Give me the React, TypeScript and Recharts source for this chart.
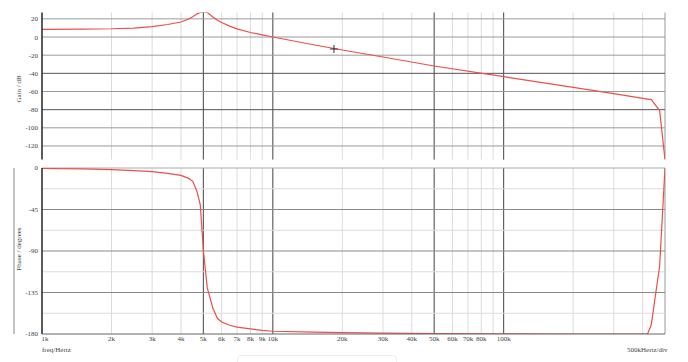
import React from 'react';
import { LineChart, Line, XAxis, YAxis, ReferenceLine, ReferenceDot } from 'recharts';

// ---- data ----
const freqHz = [1000, 1500, 2000, 2500, 3000, 3500, 4000, 4300, 4500, 4700, 4850, 5000, 5200, 5500, 5750, 6000, 6500, 7000, 8000, 9000, 10000, 15000, 20000, 30000, 50000, 100000, 200000, 300000, 420000, 436000, 474000, 500000];
const gainDb = [8.4, 8.8, 9.1, 9.9, 11.5, 13.8, 16.5, 19.5, 22.3, 25.5, 27, 27, 27, 22, 18.5, 16, 12, 9, 5, 2.3, 0, -8.5, -14.3, -22, -31.9, -43.6, -55.5, -62.4, -68.4, -69, -81, -135];
const phaseDeg = [-0.5, -1, -1.8, -2.8, -4, -5.8, -8, -11, -14.5, -26, -40, -89, -130, -152, -163, -167, -170.5, -172.5, -174.5, -176, -177, -178, -178.6, -179.1, -179.5, -179.8, -180, -180, -180, -170, -106, 0];

const xTicks = [1000, 2000, 3000, 4000, 5000, 6000, 7000, 8000, 9000, 10000, 20000, 30000, 40000, 50000, 60000, 70000, 80000, 90000, 100000, 200000, 300000, 400000, 500000];
const xTickLabels: Record<number, string> = {
  1000: '1k', 2000: '2k', 3000: '3k', 4000: '4k', 5000: '5k', 6000: '6k', 7000: '7k', 8000: '8k', 9000: '9k',
  10000: '10k', 20000: '20k', 30000: '30k', 40000: '40k', 50000: '50k', 60000: '60k', 70000: '70k', 80000: '80k',
  100000: '100k',
};
const majorFreq = [5000, 10000, 50000, 100000];
const minorFreq = [2000, 3000, 4000, 6000, 7000, 8000, 9000, 20000, 30000, 40000, 60000, 70000, 80000, 90000, 200000, 300000, 400000];
const edgeFreq = [500000];

const gainTicks = [20, 0, -20, -40, -60, -80, -100, -120];
const gainMajor = [-40, -80];
const gainMinor = [20, 0, -20, -60, -100, -120];
const phaseTicks = [0, -45, -90, -135, -180];
const phaseMajor = [-45, -90, -135];
const phaseMinor = [-22.5, -67.5, -112.5, -157.5];

const cursor = { f: 18400, g: -13.2 };

const rows = freqHz.map((f, i) => ({ f, g: gainDb[i], p: phaseDeg[i] }));

const FONT = "'Liberation Serif', 'DejaVu Serif', serif";
const RED = '#ec4f4b';

const XTick = (props: any) => {
  const { x, y, payload } = props;
  const lbl = xTickLabels[payload.value];
  if (!lbl) return null;
  const dx = payload.value === 1000 ? 3 : 0;
  return (
    <text x={x + dx} y={y + 7} textAnchor="middle" fontSize={7} fontFamily={FONT} fill="#444">
      {lbl}
    </text>
  );
};

const Plus = (props: any) => {
  const { cx, cy } = props;
  return (
    <g stroke="#333" strokeWidth={1}>
      <line x1={cx - 4} y1={cy} x2={cx + 4} y2={cy} />
      <line x1={cx} y1={cy - 4} x2={cx} y2={cy + 4} />
    </g>
  );
};

const vLines = () => [
  ...minorFreq.map((v) => <ReferenceLine key={'mi' + v} x={v} stroke="#dcdcdc" strokeWidth={1} />),
  ...edgeFreq.map((v) => <ReferenceLine key={'ed' + v} x={v} stroke="#999" strokeWidth={1} />),
  ...majorFreq.map((v) => <ReferenceLine key={'ma' + v} x={v} stroke="#444" strokeWidth={1} />),
];

const xAxisCommon = {
  type: 'number' as const,
  dataKey: 'f',
  scale: 'log' as const,
  domain: [1000, 500000],
  allowDataOverflow: true,
  ticks: xTicks,
};

export default function App() {
  return (
    <div style={{ position: 'fixed', left: 0, top: 0, width: 688, height: 362, background: '#fff', overflow: 'hidden', fontFamily: FONT }}>
      {/* Gain panel */}
      <div style={{ position: 'absolute', left: 0, top: 0 }}>
        <LineChart width={688} height={170} data={rows} margin={{ top: 12.5, right: 23, left: 12, bottom: 10.4 }}>
          <XAxis {...xAxisCommon} hide />
          <YAxis
            domain={[-135, 27]}
            allowDataOverflow
            ticks={gainTicks}
            width={30}
            tickLine={false}
            tickSize={0}
            tickMargin={4}
            axisLine={{ stroke: '#333', strokeWidth: 1.6 }}
            tick={{ fontSize: 7, fontFamily: FONT, fill: '#444' }}
          />
          {vLines()}
          {gainMinor.map((v) => <ReferenceLine key={'gm' + v} y={v} stroke="#9a9a9a" strokeWidth={1} />)}
          {gainMajor.map((v) => <ReferenceLine key={'gM' + v} y={v} stroke="#555" strokeWidth={1} />)}
          <Line dataKey="g" type="linear" stroke={RED} strokeWidth={1.2} dot={false} isAnimationActive={false} />
          <ReferenceDot x={cursor.f} y={cursor.g} r={4} shape={Plus} />
        </LineChart>
      </div>

      {/* Phase panel */}
      <div style={{ position: 'absolute', left: 0, top: 0 }}>
        <LineChart width={688} height={362} data={rows} margin={{ top: 168, right: 23, left: 12, bottom: 8 }}>
          <XAxis
            {...xAxisCommon}
            height={20}
            tickLine={false}
            tickSize={0}
            tickMargin={0}
            axisLine={{ stroke: '#666', strokeWidth: 1.2 }}
            tick={<XTick />}
            interval={0}
          />
          <YAxis
            domain={[-180, 0]}
            allowDataOverflow
            ticks={phaseTicks}
            width={30}
            tickLine={false}
            tickSize={0}
            tickMargin={4}
            axisLine={{ stroke: '#333', strokeWidth: 1.6 }}
            tick={{ fontSize: 7, fontFamily: FONT, fill: '#444' }}
          />
          {vLines()}
          <ReferenceLine y={0} stroke="#aaa" strokeWidth={1} />
          {phaseMinor.map((v) => <ReferenceLine key={'pm' + v} y={v} stroke="#dcdcdc" strokeWidth={1} />)}
          {phaseMajor.map((v) => <ReferenceLine key={'pM' + v} y={v} stroke="#8a8a8a" strokeWidth={1} />)}
          <Line dataKey="p" type="linear" stroke={RED} strokeWidth={1.2} dot={false} isAnimationActive={false} />
        </LineChart>
      </div>

      {/* decorations and axis titles */}
      <div style={{ position: 'absolute', left: 12.5, top: 168, width: 2.5, height: 166, background: '#c4c4c4' }} />
      <div style={{ position: 'absolute', left: 18.5, top: 89, transform: 'translate(-50%,-50%) rotate(-90deg)', fontSize: 7, color: '#444', whiteSpace: 'nowrap' }}>
        Gain / dB
      </div>
      <div style={{ position: 'absolute', left: 19, top: 249, transform: 'translate(-50%,-50%) rotate(-90deg)', fontSize: 7, color: '#444', whiteSpace: 'nowrap' }}>
        Phase / degrees
      </div>
      <div style={{ position: 'absolute', left: 42, top: 346, fontSize: 7, color: '#444', whiteSpace: 'nowrap' }}>freq/Hertz</div>
      <div style={{ position: 'absolute', left: 627, top: 346, fontSize: 7, color: '#444', whiteSpace: 'nowrap' }}>500kHertz/div</div>
      <div style={{ position: 'absolute', left: 237, top: 355, width: 158, height: 14, border: '1px solid #eee', borderRadius: 4 }} />
    </div>
  );
}
